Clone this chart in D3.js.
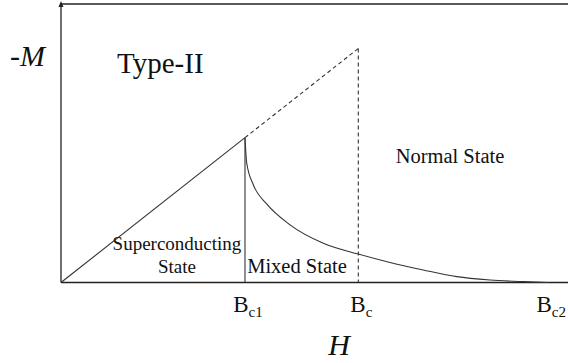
<!DOCTYPE html>
<html lang="en">
<head>
<meta charset="UTF-8">
<title>Type-II magnetization</title>
<script src="https://cdn.jsdelivr.net/npm/d3@7/dist/d3.min.js"></script>
<style>
    body { margin: 0; background: #fff; }
    svg { display: block; }
    text { font-family: 'Liberation Serif', 'Times New Roman', Times, 'DejaVu Serif', serif; fill: #111; }
    .ax { stroke: #222; stroke-width: 1.3; fill: none; }
    .curve { stroke: #333; stroke-width: 1.1; fill: none; }
    .dash { stroke: #333; stroke-width: 1.1; fill: none; stroke-dasharray: 4 3; }
</style>
</head>
<body>
<script>
    // 画布
    const width = 568;
    const height = 363;

    // 特征场强 (H 轴单位)
    const fieldNames = ['c1', 'c', 'c2'];
    const fieldValues = [3.629, 5.864, 9.611];

    // 线性段斜率: -M = k * H
    const slope = 1.433;

    // 混合态曲线
    const mixedH = [3.629, 3.663, 3.793, 4.057, 4.517, 5.174, 5.864, 6.489, 7.146, 7.805, 8.462, 9.118, 9.611];
    const mixedM = [5.20, 4.29, 3.51, 2.82, 2.07, 1.41, 1.02, 0.72, 0.45, 0.21, 0.09, 0.03, 0];

    // 区域标签
    const regionLabels = ['Normal State', 'Mixed State'];

    let svg = d3.select('body').append('svg')
        .attr('width', width)
        .attr('height', height);

    let x = d3.scaleLinear().domain([0, 10]).range([61, 568]);
    let y = d3.scaleLinear().domain([0, 10]).range([282.5, 4]);

    const bc1 = fieldValues[0], bc = fieldValues[1];

    // 坐标轴
    svg.append('line').attr('class', 'ax')
        .attr('x1', x(0)).attr('y1', y(0)).attr('x2', width).attr('y2', y(0));
    svg.append('line').attr('class', 'ax')
        .attr('x1', x(0)).attr('y1', y(0)).attr('x2', x(0)).attr('y2', 3);
    svg.append('line').attr('class', 'ax')
        .attr('x1', x(0)).attr('y1', y(10)).attr('x2', width).attr('y2', y(10));
    svg.append('path')
        .attr('d', `M${x(0)},1 L${x(0) - 2.5},7 L${x(0) + 2.5},7 Z`)
        .attr('fill', '#222');

    let line = d3.line().x(d => x(d[0])).y(d => y(d[1]));

    // 迈斯纳态直线
    svg.append('path').attr('class', 'curve')
        .attr('d', line([[0, 0], [bc1, slope * bc1]]));
    // Bc1 竖线
    svg.append('path').attr('class', 'curve')
        .attr('d', line([[bc1, 0], [bc1, slope * bc1]]));
    // 虚线延长到 Bc
    svg.append('path').attr('class', 'dash')
        .attr('d', line([[bc1, slope * bc1], [bc, slope * bc]]));
    svg.append('path').attr('class', 'dash')
        .attr('d', line([[bc, slope * bc], [bc, 0]]));

    // 混合态曲线
    let mixed = mixedH.map((h, i) => [h, mixedM[i]]);
    svg.append('path').attr('class', 'curve')
        .attr('d', line.curve(d3.curveMonotoneX)(mixed));

    // 文字
    let lab = svg.append('text').attr('x', 10).attr('y', 66).attr('font-size', 30);
    lab.append('tspan').text('-');
    lab.append('tspan').attr('font-style', 'italic').text('M');

    svg.append('text').attr('x', 117).attr('y', 73).attr('font-size', 29)
        .text('Type-II');

    svg.append('text').attr('x', 450).attr('y', 163).attr('font-size', 20.5)
        .attr('text-anchor', 'middle').text(regionLabels[0]);

    svg.append('text').attr('x', 177).attr('y', 250).attr('font-size', 19)
        .attr('text-anchor', 'middle').text('Superconducting');
    svg.append('text').attr('x', 177).attr('y', 273).attr('font-size', 19)
        .attr('text-anchor', 'middle').text('State');

    svg.append('text').attr('x', 297).attr('y', 273).attr('font-size', 20.5)
        .attr('text-anchor', 'middle').text(regionLabels[1]);

    // 刻度标签 B_c1, B_c, B_c2
    fieldValues.forEach((v, i) => {
        let t = svg.append('text').attr('x', x(v) + 3).attr('y', 312)
            .attr('font-size', 23).attr('text-anchor', 'middle');
        t.append('tspan').text('B');
        t.append('tspan').attr('font-size', 15).attr('dy', 5).text(fieldNames[i]);
    });

    svg.append('text').attr('x', 339).attr('y', 355).attr('font-size', 30)
        .attr('font-style', 'italic').attr('text-anchor', 'middle').text('H');
</script>
</body>
</html>
